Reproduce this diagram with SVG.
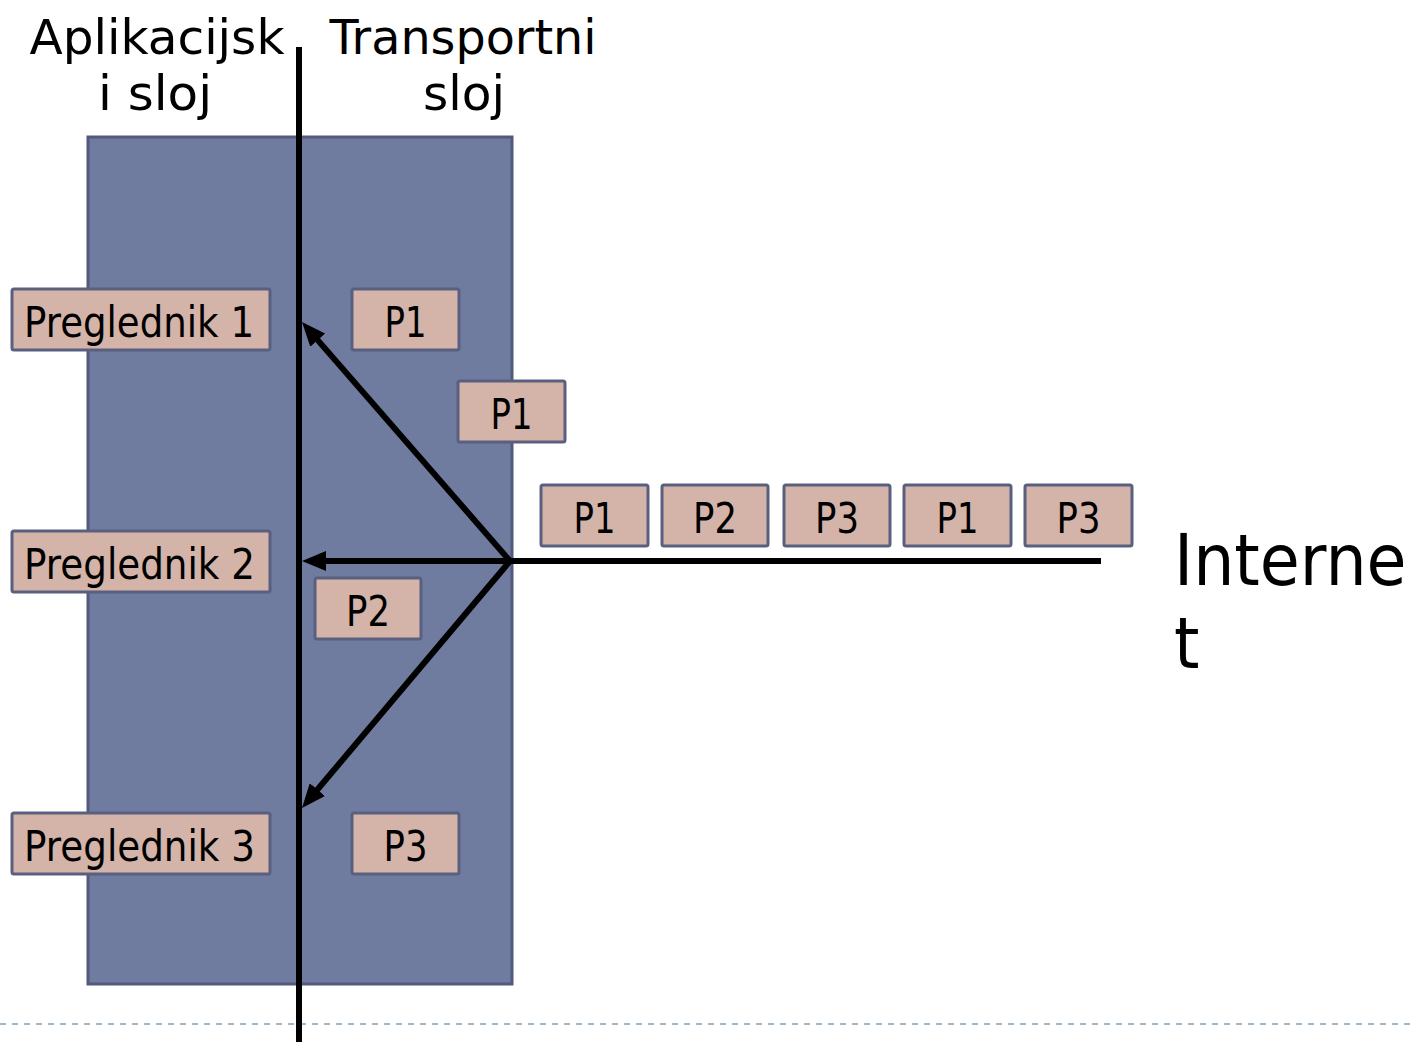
<svg xmlns="http://www.w3.org/2000/svg" width="1416" height="1042" viewBox="0 0 1416 1042">
<style>
.lbl{font-family:"DejaVu Sans","Noto Sans",sans-serif;fill:#000}
.box{fill:#d4b3a8;stroke:#59607f;stroke-width:3}
.t42{font-size:42px}
.hdr{font-size:48px;text-anchor:middle}
.conn{stroke:#000;stroke-width:6;fill:none}
</style>
<defs>
<marker id="ah" markerUnits="userSpaceOnUse" viewBox="0 0 24 20" refX="12" refY="10" markerWidth="24" markerHeight="20" orient="auto">
<path d="M0,0 L24,10 L0,20 z" fill="#000"/>
</marker>
</defs>
<rect width="1416" height="1042" fill="#fff"/>
<line x1="0" y1="1024" x2="1416" y2="1024" stroke="#9fb6cb" stroke-width="2" stroke-dasharray="6,6"/>
<g id="transport-host">
<rect x="88" y="137" width="424" height="847" fill="#707ba0" stroke="#525a7c" stroke-width="3"/>
</g>
<g id="headers">
<text class="lbl hdr" x="157" y="54" textLength="255" lengthAdjust="spacingAndGlyphs">Aplikacijsk</text>
<text class="lbl hdr" x="155" y="110" textLength="114" lengthAdjust="spacingAndGlyphs">i sloj</text>
<text class="lbl hdr" x="463" y="54" textLength="267" lengthAdjust="spacingAndGlyphs">Transportni</text>
<text class="lbl hdr" x="464" y="110" textLength="82" lengthAdjust="spacingAndGlyphs">sloj</text>
</g>
<g id="preglednik1"><rect class="box" x="12" y="289" width="258" height="61" rx="2"/><text class="lbl t42" x="24" y="337" textLength="230" lengthAdjust="spacingAndGlyphs">Preglednik 1</text></g>
<g id="preglednik2"><rect class="box" x="12" y="531" width="258" height="61" rx="2"/><text class="lbl t42" x="24" y="579" textLength="231" lengthAdjust="spacingAndGlyphs">Preglednik 2</text></g>
<g id="preglednik3"><rect class="box" x="12" y="813" width="258" height="61" rx="2"/><text class="lbl t42" x="24" y="861" textLength="231" lengthAdjust="spacingAndGlyphs">Preglednik 3</text></g>
<g id="p1-socket"><rect class="box" x="352" y="289" width="107" height="61" rx="2"/><text class="lbl t42" x="405.5" y="337" text-anchor="middle" textLength="42" lengthAdjust="spacingAndGlyphs">P1</text></g>
<g id="p1-moving"><rect class="box" x="458" y="381" width="107" height="61" rx="2"/><text class="lbl t42" x="511.5" y="429" text-anchor="middle" textLength="42" lengthAdjust="spacingAndGlyphs">P1</text></g>
<g id="p2-moving"><rect class="box" x="315" y="578" width="106" height="61" rx="2"/><text class="lbl t42" x="368" y="626" text-anchor="middle" textLength="44" lengthAdjust="spacingAndGlyphs">P2</text></g>
<g id="p3-socket"><rect class="box" x="352" y="813" width="107" height="61" rx="2"/><text class="lbl t42" x="405.5" y="861" text-anchor="middle" textLength="44" lengthAdjust="spacingAndGlyphs">P3</text></g>
<g id="q1"><rect class="box" x="541" y="485" width="107" height="61" rx="2"/><text class="lbl t42" x="594.5" y="533" text-anchor="middle" textLength="42" lengthAdjust="spacingAndGlyphs">P1</text></g>
<g id="q2"><rect class="box" x="662" y="485" width="106" height="61" rx="2"/><text class="lbl t42" x="715" y="533" text-anchor="middle" textLength="44" lengthAdjust="spacingAndGlyphs">P2</text></g>
<g id="q3"><rect class="box" x="784" y="485" width="106" height="61" rx="2"/><text class="lbl t42" x="837" y="533" text-anchor="middle" textLength="44" lengthAdjust="spacingAndGlyphs">P3</text></g>
<g id="q4"><rect class="box" x="904" y="485" width="107" height="61" rx="2"/><text class="lbl t42" x="957.5" y="533" text-anchor="middle" textLength="42" lengthAdjust="spacingAndGlyphs">P1</text></g>
<g id="q5"><rect class="box" x="1025" y="485" width="107" height="61" rx="2"/><text class="lbl t42" x="1078.5" y="533" text-anchor="middle" textLength="44" lengthAdjust="spacingAndGlyphs">P3</text></g>
<g id="internet">
<text class="lbl" font-size="65" transform="translate(1174,585) scale(1,1.1)">Interne</text>
<text class="lbl" font-size="65" transform="translate(1174,668) scale(1,1.1)">t</text>
</g>
<g id="connectors">
<line class="conn" x1="299" y1="47" x2="299" y2="1042"/>
<line class="conn" x1="1101" y1="561" x2="510" y2="561"/>
<line class="conn" x1="510" y1="561" x2="314" y2="561" marker-end="url(#ah)"/>
<line class="conn" x1="510" y1="561" x2="309.9" y2="331.1" marker-end="url(#ah)"/>
<line class="conn" x1="510" y1="561" x2="309.7" y2="798.8" marker-end="url(#ah)"/>
</g>
</svg>
